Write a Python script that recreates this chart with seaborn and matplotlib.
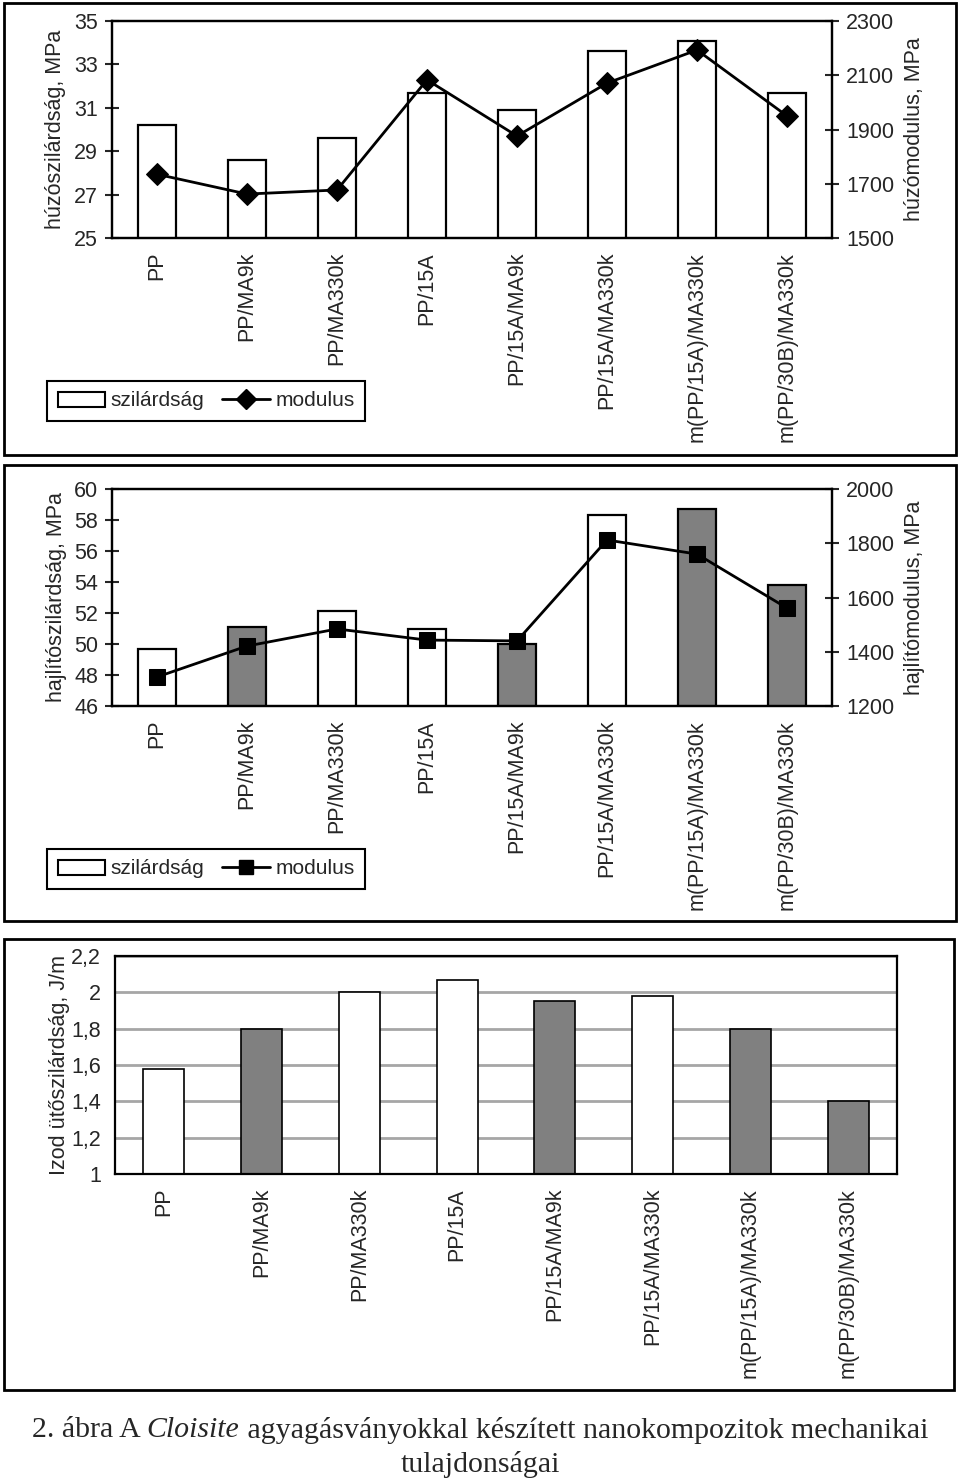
import numpy as np
import pandas as pd
import matplotlib
matplotlib.use("Agg")
import matplotlib.pyplot as plt
import seaborn as sns
from matplotlib.patches import Patch, Rectangle
from matplotlib.lines import Line2D
from matplotlib.ticker import FuncFormatter

# ---- data ----
categories = ["PP", "PP/MA9k", "PP/MA330k", "PP/15A", "PP/15A/MA9k",
              "PP/15A/MA330k", "m(PP/15A)/MA330k", "m(PP/30B)/MA330k"]
tensile_strength = [30.2, 28.6, 29.6, 31.7, 30.9, 33.6, 34.1, 31.7]
tensile_modulus = [1735, 1662, 1677, 2083, 1876, 2071, 2193, 1950]
tensile_fill = ["white"] * 8
flex_strength = [49.7, 51.1, 52.1, 51.0, 50.0, 58.3, 58.7, 53.8]
flex_modulus = [1307, 1421, 1484, 1443, 1440, 1812, 1760, 1561]
izod_strength = [1.58, 1.80, 2.00, 2.07, 1.95, 1.98, 1.80, 1.40]
fill_group = ["white", "gray", "white", "white", "gray", "white", "gray", "gray"]

sns.set_style("white")
plt.rcParams['font.family'] = ['Liberation Sans', 'DejaVu Sans']

W, H = 960, 1484
TICK_FS = 15.5
LAB_FS = 15.5
fig = plt.figure(figsize=(W / 100, H / 100), dpi=100)
palette = {"white": "white", "gray": "#808080"}


def px_axes(left, top, right, bottom):
    return fig.add_axes([left / W, 1 - bottom / H, (right - left) / W, (bottom - top) / H])


def draw_bars(ax, values, fills, lw):
    df = pd.DataFrame({"cat": categories, "val": values, "fill": fills})
    sns.barplot(data=df, x="cat", y="val", hue="fill", palette=palette, dodge=False,
                legend=False, width=0.42, edgecolor="black", linewidth=lw, ax=ax)
    n = len(categories)
    ax.set_xlim(-0.5, n - 0.5)
    ax.set_xticks(np.arange(n))
    ax.set_xticklabels(categories, rotation=90, fontsize=TICK_FS)
    ax.set_xticks(np.arange(-0.5, n, 1), minor=True)
    ax.tick_params(axis="x", which="major", length=0, pad=10)
    ax.tick_params(axis="x", which="minor", direction="out", length=8, width=1.5)
    ax.set_xlabel("")
    for s in ax.spines.values():
        s.set_color("black")
        s.set_linewidth(1.6)


def combo_panel(top, strength, modulus, fills, yticks, y2ticks, ylab, y2lab, marker, label_x):
    ax = px_axes(112, top, 832, top + 217)
    draw_bars(ax, strength, fills, 1.6)
    ax.set_ylim(yticks[0], yticks[-1])
    ax.set_yticks(yticks)
    ax.tick_params(axis="y", direction="inout", length=10, width=1.5, labelsize=TICK_FS, pad=5)
    ax.set_ylabel(ylab, fontsize=LAB_FS)
    ax.yaxis.set_label_coords(label_x, 0.5)

    ax2 = ax.twinx()
    sns.lineplot(x=np.arange(len(categories)), y=modulus, ax=ax2, color="black",
                 linewidth=2, marker=marker, markersize=11.5, markeredgecolor="black")
    ax2.set_ylim(y2ticks[0], y2ticks[-1])
    ax2.set_yticks(y2ticks)
    ax2.tick_params(axis="y", direction="inout", length=10, width=1.5, labelsize=TICK_FS, pad=5)
    ax2.set_ylabel(y2lab, fontsize=LAB_FS)
    ax2.yaxis.set_label_coords(1.1, 0.5)
    for s in ax2.spines.values():
        s.set_color("black")
        s.set_linewidth(1.6)

    # legend box sits in the lower-left corner of the panel frame
    handles = [Patch(facecolor="white", edgecolor="black", linewidth=1.5, label="szilárdság"),
               Line2D([0], [0], color="black", lw=2, marker=marker, markersize=10, label="modulus")]
    leg = fig.legend(handles=handles, loc="center", bbox_to_anchor=(206 / W, 1 - (top + 380) / H),
                     ncol=2, frameon=True, fancybox=False, framealpha=1, edgecolor="black",
                     fontsize=15, handlelength=2.3, handletextpad=0.25, columnspacing=0.85,
                     borderpad=0.5)
    leg.get_frame().set_linewidth(1.5)


# ==== panel 1: tensile ====
combo_panel(21, tensile_strength, tensile_modulus, tensile_fill,
            [25, 27, 29, 31, 33, 35], [1500, 1700, 1900, 2100, 2300],
            "húzószilárdság, MPa", "húzómodulus, MPa", "D", -0.064)

# ==== panel 2: flexural ====
combo_panel(489, flex_strength, flex_modulus, fill_group,
            [46, 48, 50, 52, 54, 56, 58, 60], [1200, 1400, 1600, 1800, 2000],
            "hajlítószilárdság, MPa", "hajlítómodulus, MPa", "s", -0.062)

# ==== panel 3: Izod ====
ax3 = px_axes(115, 956, 897, 1174)
ax3.set_axisbelow(True)
draw_bars(ax3, izod_strength, fill_group, 1.2)
izod_ticks = np.round(np.arange(1.0, 2.21, 0.2), 1)
ax3.set_ylim(1.0, 2.2)
ax3.set_yticks(izod_ticks)
ax3.yaxis.set_major_formatter(FuncFormatter(lambda v, p: f"{v:g}".replace(".", ",")))
ax3.tick_params(axis="y", direction="out", length=6, width=1.5, labelsize=TICK_FS, pad=4)
ax3.yaxis.grid(True, color="#a6a6a6", linewidth=2)
ax3.set_ylabel("Izod ütőszilárdság, J/m", fontsize=LAB_FS)
ax3.yaxis.set_label_coords(-0.058, 0.5)

# ==== outer frames ====
for (x0, y0, x1, y1) in [(4, 3, 956, 455), (4, 465, 956, 921), (4, 939, 954, 1390)]:
    fig.add_artist(Rectangle((x0 / W, 1 - y1 / H), (x1 - x0) / W, (y1 - y0) / H,
                             transform=fig.transFigure, fill=False, edgecolor="black", linewidth=2))

# ==== caption ====
serif = ['Liberation Serif', 'DejaVu Serif']
pieces = [("2. ábra A ", "normal"), ("Cloisite", "italic"),
          (" agyagásványokkal készített nanokompozitok mechanikai", "normal")]
renderer = fig.canvas.get_renderer()
texts = [fig.text(0, 1 - 1430 / H, s, fontsize=21.5, family=serif, style=st, va="center")
         for s, st in pieces]
widths = [t.get_window_extent(renderer).width for t in texts]
x = (W - sum(widths)) / 2
for t, w in zip(texts, widths):
    t.set_x(x / W)
    x += w
fig.text(0.5, 1 - 1465 / H, "tulajdonságai", fontsize=21.5, family=serif, ha="center", va="center")

fig.savefig("out.png", dpi=100)
